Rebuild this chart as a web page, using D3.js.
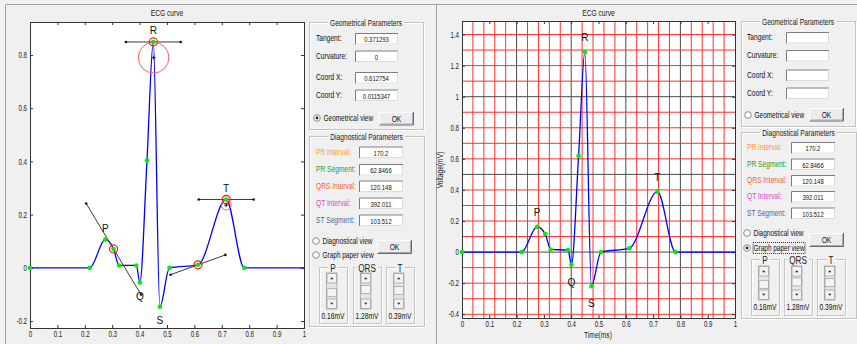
<!DOCTYPE html>
<html lang="en">
<head>
<meta charset="UTF-8">
<title>ECG curve</title>
<script src="https://d3js.org/d3.v7.min.js"></script>
<style>
  body { margin: 0; background: #f0f0f0; }
  svg { display: block; font-family: "Liberation Sans", Arial, sans-serif; }
</style>
</head>
<body>
<svg id="app" width="857" height="344"></svg>
<script>
// ---------- data ----------
const timeTicks = [0, 0.1, 0.2, 0.3, 0.4, 0.5, 0.6, 0.7, 0.8, 0.9, 1];
const leftVoltTicks = [-0.2, 0, 0.2, 0.4, 0.6, 0.8];
const rightVoltTicks = [-0.4, -0.2, 0, 0.2, 0.4, 0.6, 0.8, 1, 1.2, 1.4];

// control points of the ECG beat (time in s, voltage in mV)
const waveTime  = [0, 0.218, 0.275, 0.305, 0.325, 0.388, 0.401, 0.427, 0.45, 0.474, 0.509, 0.613, 0.716, 0.782, 1];
const waveLeft  = [0, 0, 0.107, 0.071, 0.009, 0.009, -0.055, 0.404, 0.849, -0.146, 0, 0.0115, 0.257, 0, 0];
const waveRight = [0, 0, 0.163, 0.116, 0.017, 0.013, -0.08, 0.619, 1.288, -0.219, 0, 0.024, 0.389, 0, 0];

const peakNames = ["P", "Q", "R", "S", "T"];
const peakIdx = [2, 6, 8, 9, 12];

// tangents drawn on the left curve
const tangentIdx = [3, 8, 11, 12];
const tangentSlope = [-1.71, 0, 0.371293, 0];

// curvature circles (centre and radius, time units)
const circleTime = [0.451, 0.716];
const circleVolt = [0.79, 0.236];
const circleRadius = [0.056, 0.018];

const geoLabels = ["Tangent:", "Curvature:", "Coord X:", "Coord Y:"];
const geoValues = ["0.371293", "0", "0.612754", "0.0115347"];
const diagLabels = ["PR Interval:", "PR Segment:", "QRS Interval:", "QT Interval:", "ST Segment:"];
const diagValues = ["170.2", "62.8466", "120.148", "392.011", "103.512"];
const diagColors = ["#ff9a2a", "#2e9a2e", "#f2603a", "#dc48cc", "#4a66a8"];
const ampNames = ["P", "QRS", "T"];
const ampValues = [0.16, 1.28, 0.39];

const svg = d3.select("#app");

// the screenshot's GUI font is narrow: squeeze glyphs horizontally with a transform
function squeeze(sel, k = 0.74) {
  sel.each(function () {
    const t = d3.select(this);
    const x = +t.attr("x") || 0, y = +t.attr("y") || 0;
    const base = t.attr("transform") || "";
    t.attr("x", 0).attr("y", 0)
      .attr("transform", `${base} translate(${x},${y}) scale(${k},1)`)
      .attr("data-w", this.getComputedTextLength() * k);
  });
  return sel;
}

// window frames
svg.append("rect").attr("width", 857).attr("height", 344).attr("fill", "#f0f0f0");
svg.append("path").attr("d", "M5.5,344V4.5H857M436.5,4.5V344")
  .attr("fill", "none").attr("stroke", "#a0a0a0");

const fmt = d => String(+d.toFixed(1));

function drawChart(cfg) {
  const g = svg.append("g");
  const x = d3.scaleLinear().domain([0, 1]).range([cfg.left, cfg.right]);
  const y = d3.scaleLinear().domain(cfg.yDomain).range([cfg.bottom, cfg.top]);

  g.append("rect").attr("x", cfg.left).attr("y", cfg.top)
    .attr("width", cfg.right - cfg.left).attr("height", cfg.bottom - cfg.top).attr("fill", "#fff");

  if (cfg.grid) {
    const vx = d3.range(1, 25).map(i => i * 0.04);
    g.selectAll(".vg").data(vx).enter().append("line")
      .attr("x1", d => x(d)).attr("x2", d => x(d))
      .attr("y1", cfg.top).attr("y2", cfg.bottom)
      .attr("stroke", (d, i) => (i + 1) % 5 === 0 ? "#4a4a4a" : "#ff3030").attr("stroke-width", 1);
    const hy = d3.range(-4, 15).map(i => i / 10);
    g.selectAll(".hg").data(hy).enter().append("line")
      .attr("x1", cfg.left).attr("x2", cfg.right)
      .attr("y1", d => y(d)).attr("y2", d => y(d))
      .attr("stroke", d => Math.abs(Math.round(d * 10)) % 5 === 0 ? "#4a4a4a" : "#ff3030").attr("stroke-width", 1);
  }

  const styleAxis = a => {
    a.select(".domain").remove();
    a.selectAll("line").attr("stroke", "#333");
    a.selectAll("text").attr("fill", "#222").attr("font-size", 8.5)
      .attr("font-family", "'Liberation Sans', Arial, sans-serif");
    squeeze(a.selectAll("text"), 0.72);
  };
  g.append("g").attr("transform", `translate(0,${cfg.bottom})`)
    .call(d3.axisBottom(x).tickValues(timeTicks).tickFormat(fmt).tickSizeInner(-3).tickSizeOuter(0).tickPadding(3)).call(styleAxis);
  g.append("g").attr("transform", `translate(0,${cfg.top})`)
    .call(d3.axisTop(x).tickValues(timeTicks).tickFormat("").tickSizeInner(-3).tickSizeOuter(0)).call(styleAxis);
  g.append("g").attr("transform", `translate(${cfg.left},0)`)
    .call(d3.axisLeft(y).tickValues(cfg.yTicks).tickFormat(fmt).tickSizeInner(-3).tickSizeOuter(0).tickPadding(3)).call(styleAxis);
  g.append("g").attr("transform", `translate(${cfg.right},0)`)
    .call(d3.axisRight(y).tickValues(cfg.yTicks).tickFormat("").tickSizeInner(-3).tickSizeOuter(0)).call(styleAxis);

  g.append("rect").attr("x", cfg.left + 0.5).attr("y", cfg.top + 0.5)
    .attr("width", cfg.right - cfg.left).attr("height", cfg.bottom - cfg.top)
    .attr("fill", "none").attr("stroke", "#333");

  squeeze(g.append("text").attr("x", (cfg.left + cfg.right) / 2).attr("y", 13)
    .attr("text-anchor", "middle").attr("dominant-baseline", "central")
    .attr("font-size", 9).attr("fill", "#222").text("ECG curve"));

  const pts = waveTime.map((t, i) => [t, cfg.values[i]]);
  const line = d3.line().x(d => x(d[0])).y(d => y(d[1])).curve(d3.curveMonotoneX);
  g.append("path").attr("d", line(pts)).attr("fill", "none")
    .attr("stroke", "#0000ff").attr("stroke-width", 1.3);

  return { g, x, y, pts };
}

function drawMarkers(c, cfg) {
  c.g.selectAll(".dot").data(c.pts.slice(0, -1)).enter().append("circle")
    .attr("cx", d => c.x(d[0])).attr("cy", d => c.y(d[1])).attr("r", 2.3).attr("fill", "#00ee00");
  const lab = c.g.selectAll(".lbl").data(peakIdx).enter().append("text")
    .attr("x", d => c.x(c.pts[d][0]))
    .attr("y", (d, i) => c.y(c.pts[d][1]) + (i === 1 || i === 3 ? cfg.below : cfg.above))
    .attr("text-anchor", "middle").attr("dominant-baseline", "central")
    .attr("font-size", 11.5).attr("fill", "#111")
    .text((d, i) => peakNames[i]);
  squeeze(lab, 0.88);
}

// ---------- left window: geometrical view ----------
const left = drawChart({ left: 30, right: 304, top: 22, bottom: 328, yDomain: [-0.226, 0.924],
  yTicks: leftVoltTicks, values: waveLeft, grid: false });

// tangents
tangentIdx.forEach((k, i) => {
  const [t, v] = left.pts[k];
  const ends = [[t - 0.1, v - 0.1 * tangentSlope[i]], [t + 0.1, v + 0.1 * tangentSlope[i]]];
  left.g.append("line")
    .attr("x1", left.x(ends[0][0])).attr("y1", left.y(ends[0][1]))
    .attr("x2", left.x(ends[1][0])).attr("y2", left.y(ends[1][1]))
    .attr("stroke", "#3a3a3a").attr("stroke-width", 1);
  left.g.selectAll(null).data(ends).enter().append("circle")
    .attr("cx", d => left.x(d[0])).attr("cy", d => left.y(d[1])).attr("r", 1.3).attr("fill", "#111");
  left.g.append("circle").attr("cx", left.x(t)).attr("cy", left.y(v)).attr("r", 4)
    .attr("fill", "none").attr("stroke", "#ff2020").attr("stroke-width", 1.3);
});

// curvature circles
circleTime.forEach((t, i) => {
  const cx = left.x(t), cy = left.y(circleVolt[i]);
  const r = left.x(circleRadius[i]) - left.x(0);
  left.g.append("circle").attr("cx", cx).attr("cy", cy).attr("r", r)
    .attr("fill", "none").attr("stroke", "#ff5a5a").attr("stroke-width", 1);
  left.g.append("path").attr("d", `M${cx - 2},${cy}H${cx + 2}M${cx},${cy - 2}V${cy + 2}`)
    .attr("stroke", "#111").attr("stroke-width", 1);
});
drawMarkers(left, { above: -12, below: 13 });

// ---------- right window: graph paper view ----------
const right = drawChart({ left: 462, right: 735, top: 21, bottom: 318, yDomain: [-0.424, 1.487],
  yTicks: rightVoltTicks, values: waveRight, grid: true });
drawMarkers(right, { above: -15, below: 17 });

squeeze(svg.append("text").attr("x", 598).attr("y", 335).attr("text-anchor", "middle")
  .attr("dominant-baseline", "central").attr("font-size", 9).attr("fill", "#222").text("Time(ms)"));
squeeze(svg.append("text").attr("transform", "translate(440,170) rotate(-90)").attr("text-anchor", "middle")
  .attr("dominant-baseline", "central").attr("font-size", 9).attr("fill", "#222").text("Voltage(mV)"));

// ---------- control panels ----------
function groupBox(g, x0, y0, x1, y1, title, size) {
  g.append("rect").attr("x", x0 + 1.5).attr("y", y0 + 1.5).attr("width", x1 - x0).attr("height", y1 - y0)
    .attr("fill", "none").attr("stroke", "#ffffff");
  g.append("rect").attr("x", x0 + 0.5).attr("y", y0 + 0.5).attr("width", x1 - x0).attr("height", y1 - y0)
    .attr("fill", "none").attr("stroke", "#c4c4c4");
  const bg = g.append("rect").attr("fill", "#f0f0f0");
  const t = squeeze(g.append("text").attr("x", (x0 + x1) / 2).attr("y", y0 + 1).attr("text-anchor", "middle")
    .attr("dominant-baseline", "central").attr("font-size", size).attr("fill", "#222").text(title));
  const w = +t.attr("data-w") + 4;
  bg.attr("x", (x0 + x1) / 2 - w / 2).attr("y", y0 - 3).attr("width", w).attr("height", 7);
}

function inputBox(g, x, y, w, h, val) {
  g.append("rect").attr("x", x).attr("y", y).attr("width", w).attr("height", h).attr("fill", "#fff");
  g.append("path").attr("d", `M${x + 0.5},${y + h}V${y + 0.5}H${x + w}`).attr("fill", "none").attr("stroke", "#7c7c7c");
  g.append("path").attr("d", `M${x + 1.5},${y + h - 0.5}H${x + w - 0.5}V${y + 1}`).attr("fill", "none").attr("stroke", "#dcdcdc");
  squeeze(g.append("text").attr("x", x + w / 2).attr("y", y + h / 2 + 0.5).attr("text-anchor", "middle")
    .attr("dominant-baseline", "central").attr("font-size", 8).attr("fill", "#111").text(val));
}

function button(g, x, y, w, h, label) {
  g.append("rect").attr("x", x).attr("y", y).attr("width", w).attr("height", h).attr("fill", "#ececec");
  g.append("path").attr("d", `M${x + 0.5},${y + h}V${y + 0.5}H${x + w}`).attr("fill", "none").attr("stroke", "#fff");
  g.append("path").attr("d", `M${x + 0.5},${y + h - 0.5}H${x + w - 0.5}V${y}`).attr("fill", "none").attr("stroke", "#6a6a6a");
  g.append("path").attr("d", `M${x + 1.5},${y + h - 1.5}H${x + w - 1.5}V${y + 1}`).attr("fill", "none").attr("stroke", "#a8a8a8");
  squeeze(g.append("text").attr("x", x + w / 2).attr("y", y + h / 2).attr("text-anchor", "middle")
    .attr("dominant-baseline", "central").attr("font-size", 9).attr("fill", "#111").text(label));
}

function radio(g, x, y, label, on, focus) {
  g.append("circle").attr("cx", x).attr("cy", y).attr("r", 3.3).attr("fill", "#fff").attr("stroke", "#8a8a8a");
  if (on) g.append("circle").attr("cx", x).attr("cy", y).attr("r", 1.4).attr("fill", "#222");
  const t = squeeze(g.append("text").attr("x", x + 6.5).attr("y", y).attr("dominant-baseline", "central")
    .attr("font-size", 9).attr("fill", "#111").text(label), 0.72);
  if (focus) {
    const w = +t.attr("data-w");
    g.append("rect").attr("x", x + 6).attr("y", y - 5.5).attr("width", w + 1).attr("height", 11)
      .attr("fill", "none").attr("stroke", "#333").attr("stroke-dasharray", "1,1");
  }
}

function slider(g, x, y, w, h, frac) {
  g.append("rect").attr("x", x).attr("y", y).attr("width", w).attr("height", h).attr("fill", "#e6e6e6")
    .attr("stroke", "#b4b4b4");
  const btn = (by, up) => {
    g.append("rect").attr("x", x + 0.5).attr("y", by).attr("width", w - 1).attr("height", w - 1)
      .attr("fill", "#f2f2f2").attr("stroke", "#8c8c8c").attr("stroke-width", 0.6);
    const cx = x + w / 2, cy = by + (w - 1) / 2;
    g.append("path").attr("d", up ? `M${cx - 1.6},${cy + 1}L${cx},${cy - 1}L${cx + 1.6},${cy + 1}Z`
      : `M${cx - 1.6},${cy - 1}L${cx},${cy + 1}L${cx + 1.6},${cy - 1}Z`).attr("fill", "#222");
  };
  btn(y + 0.5, true);
  btn(y + h - w + 0.5, false);
  const tr0 = y + w, tr1 = y + h - w, th = 8;
  const ty = tr0 + (tr1 - tr0 - th) * frac;
  g.append("rect").attr("x", x + 0.5).attr("y", ty).attr("width", w - 1).attr("height", th)
    .attr("fill", "#f4f4f4").attr("stroke", "#8c8c8c").attr("stroke-width", 0.6);
}

function drawPanel(p) {
  const g = svg.append("g");
  groupBox(g, p.x0, p.geoTop, p.x1, p.geoBottom, "Geometrical Parameters", 9);
  geoLabels.forEach((lab, i) => {
    squeeze(g.append("text").attr("x", p.labelX).attr("y", p.geoRows[i]).attr("dominant-baseline", "central")
      .attr("font-size", 9).attr("fill", "#111").text(lab));
    inputBox(g, p.geoInX, p.geoRows[i] - 5.5, 43, 11.5, p.showGeo ? geoValues[i] : "");
  });
  radio(g, p.labelX + 1, p.geoRadioY, "Geometrical view", p.mode === 0, false);
  button(g, p.geoOk[0], p.geoOk[1], 35, 13.5, "OK");

  groupBox(g, p.x0, p.diagTop, p.x1 + 1, p.diagBottom, "Diagnostical Parameters", 9);
  diagLabels.forEach((lab, i) => {
    squeeze(g.append("text").attr("x", p.labelX).attr("y", p.diagRows[i]).attr("dominant-baseline", "central")
      .attr("font-size", 9).attr("fill", diagColors[i]).text(lab));
    inputBox(g, p.diagInX, p.diagRows[i] - 5.5, 44, 11.5, diagValues[i]);
  });
  radio(g, p.labelX, p.radioY[0], "Diagnostical view", p.mode === 1, false);
  radio(g, p.labelX, p.radioY[1], "Graph paper view", p.mode === 2, p.mode === 2);
  button(g, p.diagOk[0], p.diagOk[1], 35, 14, "OK");

  ampNames.forEach((name, i) => {
    const gx = p.ampX[i];
    groupBox(g, gx, p.ampTop, gx + 28, p.ampBottom, name, 11);
    slider(g, gx + 7.5, p.sliderY[0], 10.5, p.sliderY[1] - p.sliderY[0], p.thumb[i]);
    squeeze(g.append("text").attr("x", gx + 14).attr("y", p.ampLabelY).attr("text-anchor", "middle")
      .attr("dominant-baseline", "central").attr("font-size", 9).attr("fill", "#111")
      .text(ampValues[i] + "mV"));
  });
}

drawPanel({ x0: 309, x1: 423, labelX: 316, geoTop: 22, geoBottom: 129, geoRows: [38.5, 56, 77.5, 95],
  geoInX: 355, geoRadioY: 118, geoOk: [379, 112], showGeo: true, mode: 0,
  diagTop: 136, diagBottom: 326, diagRows: [152, 169.5, 186, 203, 220], diagInX: 359,
  radioY: [241, 255], diagOk: [377, 240],
  ampX: [319, 353, 386], ampTop: 267, ampBottom: 323, sliderY: [273, 309], ampLabelY: 316,
  thumb: [0.75, 0.3, 0.45] });

drawPanel({ x0: 741, x1: 855, labelX: 747, geoTop: 21, geoBottom: 126, geoRows: [37.5, 55.5, 75, 93],
  geoInX: 786, geoRadioY: 115, geoOk: [809, 108], showGeo: false, mode: 2,
  diagTop: 132, diagBottom: 318, diagRows: [147.5, 164, 180.5, 196.5, 213], diagInX: 791,
  radioY: [233, 248], diagOk: [809, 233],
  ampX: [751, 784, 817], ampTop: 259, ampBottom: 315, sliderY: [266, 300], ampLabelY: 307,
  thumb: [0.75, 0.3, 0.45] });
</script>
</body>
</html>
